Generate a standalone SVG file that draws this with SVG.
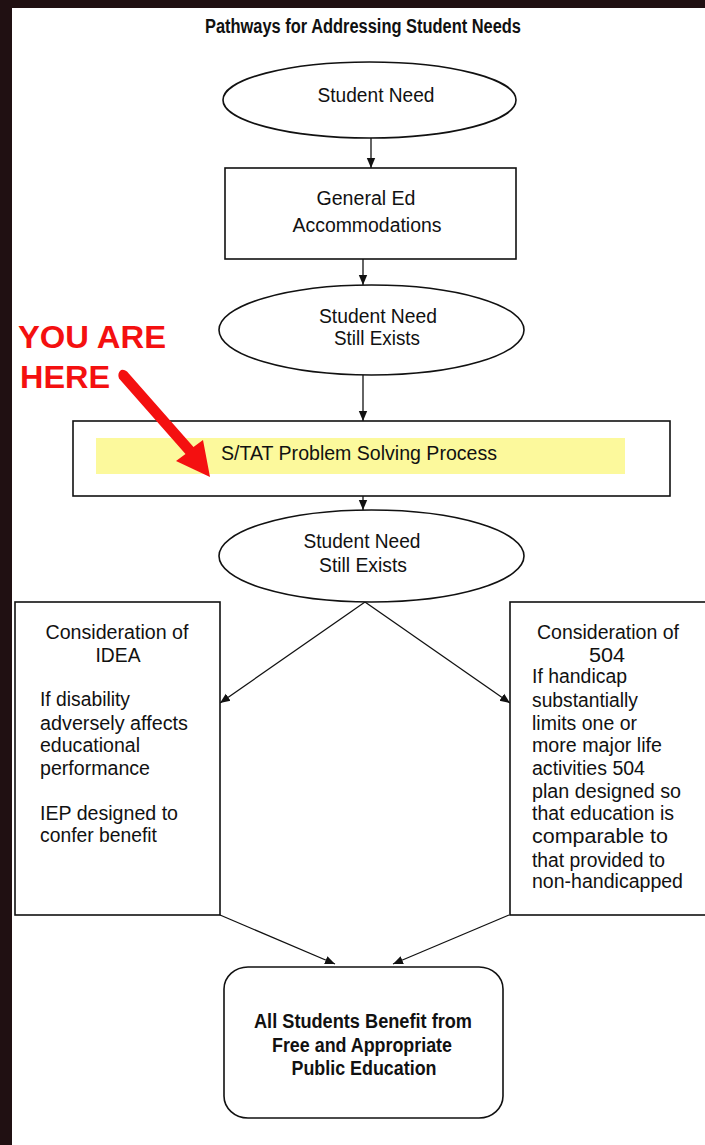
<svg xmlns="http://www.w3.org/2000/svg" width="705" height="1145" viewBox="0 0 705 1145">
<style>
.bg{fill:#ffffff}
.frame{fill:#201012}
.node{fill:#ffffff;stroke:#111111;stroke-width:1.6}
.t{font-family:"Liberation Sans",Arial,sans-serif;font-size:20px;fill:#111111}
.c{text-anchor:middle}
.b{font-weight:bold}
.red{font-family:"Liberation Sans",Arial,sans-serif;font-size:32px;font-weight:bold;fill:#f41010}
.conn{stroke:#111111;stroke-width:1.3;fill:none}
</style>
<defs>
<marker id="ah" markerUnits="userSpaceOnUse" markerWidth="10" markerHeight="10" viewBox="0 0 10 10" refX="10" refY="5" orient="auto">
<path d="M0,0.8 L10,5 L0,9.2 Z" fill="#111111"/>
</marker>
</defs>
<rect class="bg" x="0" y="0" width="705" height="1145"/>
<rect class="frame" x="0" y="0" width="705" height="8"/>
<rect class="frame" x="0" y="0" width="12" height="1145"/>

<text class="t c b" x="363" y="33" font-size="18" textLength="316" lengthAdjust="spacingAndGlyphs">Pathways for Addressing Student Needs</text>

<g id="connectors">
<line class="conn" x1="371" y1="138" x2="371" y2="168" marker-end="url(#ah)"/>
<line class="conn" x1="363" y1="259" x2="363" y2="285" marker-end="url(#ah)"/>
<line class="conn" x1="363" y1="375" x2="363" y2="421" marker-end="url(#ah)"/>
<line class="conn" x1="363" y1="481" x2="363" y2="510" marker-end="url(#ah)"/>
<line class="conn" x1="365" y1="602" x2="220" y2="703" marker-end="url(#ah)"/>
<line class="conn" x1="365" y1="602" x2="510" y2="703" marker-end="url(#ah)"/>
<line class="conn" x1="220" y1="915" x2="335" y2="964" marker-end="url(#ah)"/>
<line class="conn" x1="509" y1="915" x2="393" y2="964" marker-end="url(#ah)"/>
</g>

<g id="n1">
<ellipse class="node" cx="369.5" cy="100" rx="146.5" ry="38"/>
<text class="t c" x="376" y="102" textLength="117" lengthAdjust="spacingAndGlyphs">Student Need</text>
</g>

<g id="n2">
<rect class="node" x="225" y="168" width="291" height="91"/>
<text class="t c" x="366" y="205" textLength="99" lengthAdjust="spacingAndGlyphs">General Ed</text>
<text class="t c" x="367" y="232" textLength="149" lengthAdjust="spacingAndGlyphs">Accommodations</text>
</g>

<g id="n3">
<ellipse class="node" cx="371.5" cy="330" rx="152.5" ry="45"/>
<text class="t c" x="378" y="323" textLength="118" lengthAdjust="spacingAndGlyphs">Student Need</text>
<text class="t c" x="377" y="345" textLength="86" lengthAdjust="spacingAndGlyphs">Still Exists</text>
</g>

<g id="n4">
<rect class="node" x="73" y="421" width="597" height="75" stroke-width="2.2"/>
<rect x="96" y="438" width="529" height="36" fill="#fcf99c"/>
<text class="t c" x="359" y="460" textLength="276" lengthAdjust="spacingAndGlyphs">S/TAT Problem Solving Process</text>
</g>

<g id="n5">
<ellipse class="node" cx="371.5" cy="556" rx="152.5" ry="46"/>
<text class="t c" x="362" y="548" textLength="117" lengthAdjust="spacingAndGlyphs">Student Need</text>
<text class="t c" x="363" y="572" textLength="88" lengthAdjust="spacingAndGlyphs">Still Exists</text>
</g>

<g id="n6">
<rect class="node" x="15" y="602" width="205" height="313"/>
<text class="t c" x="117" y="639" textLength="143" lengthAdjust="spacingAndGlyphs">Consideration of</text>
<text class="t c" x="118" y="662" textLength="45" lengthAdjust="spacingAndGlyphs">IDEA</text>
<text class="t" x="40" y="706" textLength="90" lengthAdjust="spacingAndGlyphs">If disability</text>
<text class="t" x="40" y="730" textLength="148" lengthAdjust="spacingAndGlyphs">adversely affects</text>
<text class="t" x="40" y="752" textLength="100" lengthAdjust="spacingAndGlyphs">educational</text>
<text class="t" x="40" y="775" textLength="110" lengthAdjust="spacingAndGlyphs">performance</text>
<text class="t" x="40" y="820" textLength="138" lengthAdjust="spacingAndGlyphs">IEP designed to</text>
<text class="t" x="40" y="842" textLength="117" lengthAdjust="spacingAndGlyphs">confer benefit</text>
</g>

<g id="n7">
<rect class="node" x="510" y="602" width="200" height="313"/>
<text class="t c" x="608" y="639" textLength="142" lengthAdjust="spacingAndGlyphs">Consideration of</text>
<text class="t c" x="607" y="662" textLength="36" lengthAdjust="spacingAndGlyphs">504</text>
<text class="t" x="532" y="683" textLength="95" lengthAdjust="spacingAndGlyphs">If handicap</text>
<text class="t" x="532" y="707" textLength="106" lengthAdjust="spacingAndGlyphs">substantially</text>
<text class="t" x="532" y="730" textLength="105" lengthAdjust="spacingAndGlyphs">limits one or</text>
<text class="t" x="532" y="752" textLength="130" lengthAdjust="spacingAndGlyphs">more major life</text>
<text class="t" x="532" y="775" textLength="113" lengthAdjust="spacingAndGlyphs">activities 504</text>
<text class="t" x="532" y="798" textLength="149" lengthAdjust="spacingAndGlyphs">plan designed so</text>
<text class="t" x="532" y="820" textLength="142" lengthAdjust="spacingAndGlyphs">that education is</text>
<text class="t" x="532" y="843" textLength="136" lengthAdjust="spacingAndGlyphs">comparable to</text>
<text class="t" x="532" y="867" textLength="133" lengthAdjust="spacingAndGlyphs">that provided to</text>
<text class="t" x="532" y="888" textLength="151" lengthAdjust="spacingAndGlyphs">non-handicapped</text>
</g>

<g id="n8">
<rect class="node" x="224" y="967" width="279" height="151" rx="24" ry="22"/>
<text class="t c b" x="363" y="1028" textLength="218" lengthAdjust="spacingAndGlyphs">All Students Benefit from</text>
<text class="t c b" x="362" y="1052" textLength="180" lengthAdjust="spacingAndGlyphs">Free and Appropriate</text>
<text class="t c b" x="364" y="1075" textLength="145" lengthAdjust="spacingAndGlyphs">Public Education</text>
</g>

<g id="you-are-here">
<text class="red" x="18" y="348" textLength="148" lengthAdjust="spacingAndGlyphs">YOU ARE</text>
<text class="red" x="20" y="388" textLength="90" lengthAdjust="spacingAndGlyphs">HERE</text>
<path d="M127,371.5 L193.5,447 L203,440 L210,477 L176,461 L185.5,454 L119,378.5 Q117,373 121,370 Q124,369 127,371.5 Z" fill="#f41010"/>
</g>
</svg>
